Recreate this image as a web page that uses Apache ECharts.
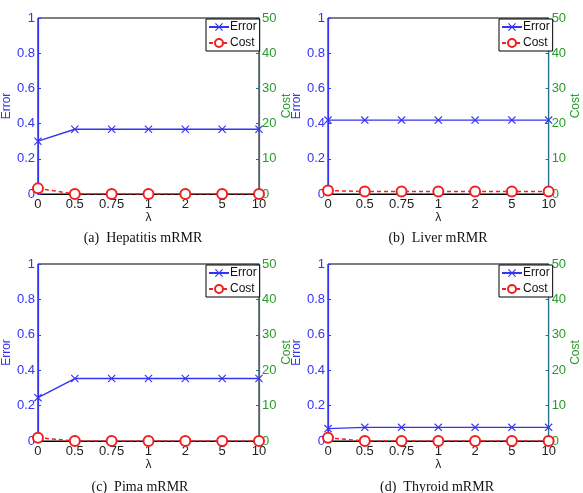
<!DOCTYPE html>
<html lang="en">
<head>
    <meta charset="UTF-8">
    <title>mRMR error / cost</title>
    <script src="https://cdn.jsdelivr.net/npm/echarts@6/dist/echarts.min.js"></script>
    <style>
        html, body { margin: 0; padding: 0; background: #fff; }
        #chart { width: 583px; height: 493px; }
    </style>
</head>
<body>
    <div id="chart"></div>
    <script>
        // lambda values on the x axis
        var lambdas = ['0', '0.5', '0.75', '1', '2', '5', '10'];
        var errorTicks = ['0', '0.2', '0.4', '0.6', '0.8', '1'];
        var captions = ['(a)  Hepatitis mRMR', '(b)  Liver mRMR', '(c)  Pima mRMR', '(d)  Thyroid mRMR'];

        // error (left axis) and cost (right axis) for each dataset
        var hepatitisError = [0.30, 0.368, 0.368, 0.368, 0.368, 0.368, 0.368];
        var hepatitisCost = [1.6, 0, 0, 0, 0, 0, 0];
        var liverError = [0.42, 0.42, 0.42, 0.42, 0.42, 0.42, 0.42];
        var liverCost = [1.0, 0.7, 0.7, 0.7, 0.7, 0.7, 0.7];
        var pimaError = [0.245, 0.353, 0.353, 0.353, 0.353, 0.353, 0.353];
        var pimaCost = [0.95, 0, 0, 0, 0, 0, 0];
        var thyroidError = [0.07, 0.077, 0.077, 0.077, 0.077, 0.077, 0.077];
        var thyroidCost = [0.9, 0, 0, 0, 0, 0, 0];

        var errors = [hepatitisError, liverError, pimaError, thyroidError];
        var costs = [hepatitisCost, liverCost, pimaCost, thyroidCost];

        var BLUE = '#3333f5';
        var GREEN = '#2a9a2a';
        var TEAL = '#27708c';
        var RED = '#f02020';
        var xMark = 'path://M0,1L1,0L5,4L9,0L10,1L6,5L10,9L9,10L5,6L1,10L0,9L4,5Z';
        var font = 'Liberation Sans, Arial, sans-serif';

        // panel boxes: left, top, width, height
        var boxes = [
            [35, 18, 224, 176],
            [328, 18, 224, 176],
            [35, 264, 224, 177],
            [328, 264, 224, 177]
        ];
        var captionPos = [[143, 238], [438, 238], [140, 487], [437, 487]];

        var grid = [], xAxis = [], yAxis = [], series = [], legend = [], graphic = [];

        boxes.forEach(function (b, i) {
            grid.push({
                left: b[0], top: b[1], width: b[2], height: b[3],
                show: true, borderColor: '#000', borderWidth: 1, backgroundColor: '#fff'
            });
            xAxis.push({
                type: 'category', gridIndex: i, data: lambdas, boundaryGap: false,
                name: 'λ', nameLocation: 'middle', nameGap: 15,
                nameTextStyle: { color: '#222', fontSize: 12, fontFamily: font },
                axisLine: { lineStyle: { color: '#000', width: 1 } },
                axisTick: { inside: true, length: 3, alignWithLabel: true, lineStyle: { color: '#000' } },
                axisLabel: { color: '#222', fontSize: 13, fontFamily: font, margin: 4, interval: 0 },
                splitLine: { show: false }
            });
            yAxis.push({
                type: 'value', gridIndex: i, min: 0, max: 1, interval: 0.2, position: 'left',
                name: 'Error', nameLocation: 'middle', nameGap: 21,
                nameTextStyle: { color: BLUE, fontSize: 12, fontFamily: font },
                axisLine: { show: true, lineStyle: { color: BLUE, width: 1.2 } },
                axisTick: { show: true, inside: true, length: 3, lineStyle: { color: BLUE } },
                axisLabel: {
                    color: BLUE, fontSize: 13, fontFamily: font, margin: 3,
                    formatter: function (v) { return errorTicks[Math.round(v * 5)]; }
                },
                splitLine: { show: false }
            });
            yAxis.push({
                type: 'value', gridIndex: i, min: 0, max: 50, interval: 10, position: 'right',
                name: 'Cost', nameLocation: 'middle', nameGap: 17, nameRotate: 90,
                nameTextStyle: { color: GREEN, fontSize: 12, fontFamily: font },
                axisLine: { show: true, lineStyle: { color: TEAL, width: 1.2 } },
                axisTick: { show: true, inside: true, length: 3, lineStyle: { color: TEAL } },
                axisLabel: { color: GREEN, fontSize: 13, fontFamily: font, margin: 3 },
                splitLine: { show: false }
            });
            series.push({
                name: 'Error', type: 'line', xAxisIndex: i, yAxisIndex: i * 2,
                data: errors[i], symbol: xMark, symbolSize: 8,
                lineStyle: { color: BLUE, width: 1.4 },
                itemStyle: { color: BLUE }, z: 3
            });
            series.push({
                name: 'Cost', type: 'line', xAxisIndex: i, yAxisIndex: i * 2 + 1,
                data: costs[i], symbol: 'emptyCircle', symbolSize: 10,
                lineStyle: { color: RED, width: 1.5, type: [4, 3] },
                itemStyle: { color: RED, borderColor: RED, borderWidth: 1.6 }, z: 4
            });
            legend.push({
                data: ['Error', 'Cost'], orient: 'vertical',
                left: b[0] + b[2] - 53, top: b[1] + 1,
                itemWidth: 20, itemHeight: 10, itemGap: 4,
                padding: [2, 3, 2, 2],
                borderColor: '#000', borderWidth: 1, backgroundColor: '#fff',
                textStyle: { color: '#111', fontSize: 12, fontFamily: font, padding: [0, 0, 0, -4] },
                selectedMode: false
            });
            graphic.push({
                type: 'text', x: captionPos[i][0], y: captionPos[i][1],
                style: {
                    text: captions[i], fill: '#111', font: '14px "Liberation Serif", "Times New Roman", serif',
                    textAlign: 'center', textVerticalAlign: 'middle'
                }
            });
        });

        var myChart = echarts.init(document.getElementById('chart'));
        myChart.setOption({
            animation: false,
            backgroundColor: '#fff',
            grid: grid,
            xAxis: xAxis,
            yAxis: yAxis,
            legend: legend,
            series: series,
            graphic: graphic
        });
    </script>
</body>
</html>
